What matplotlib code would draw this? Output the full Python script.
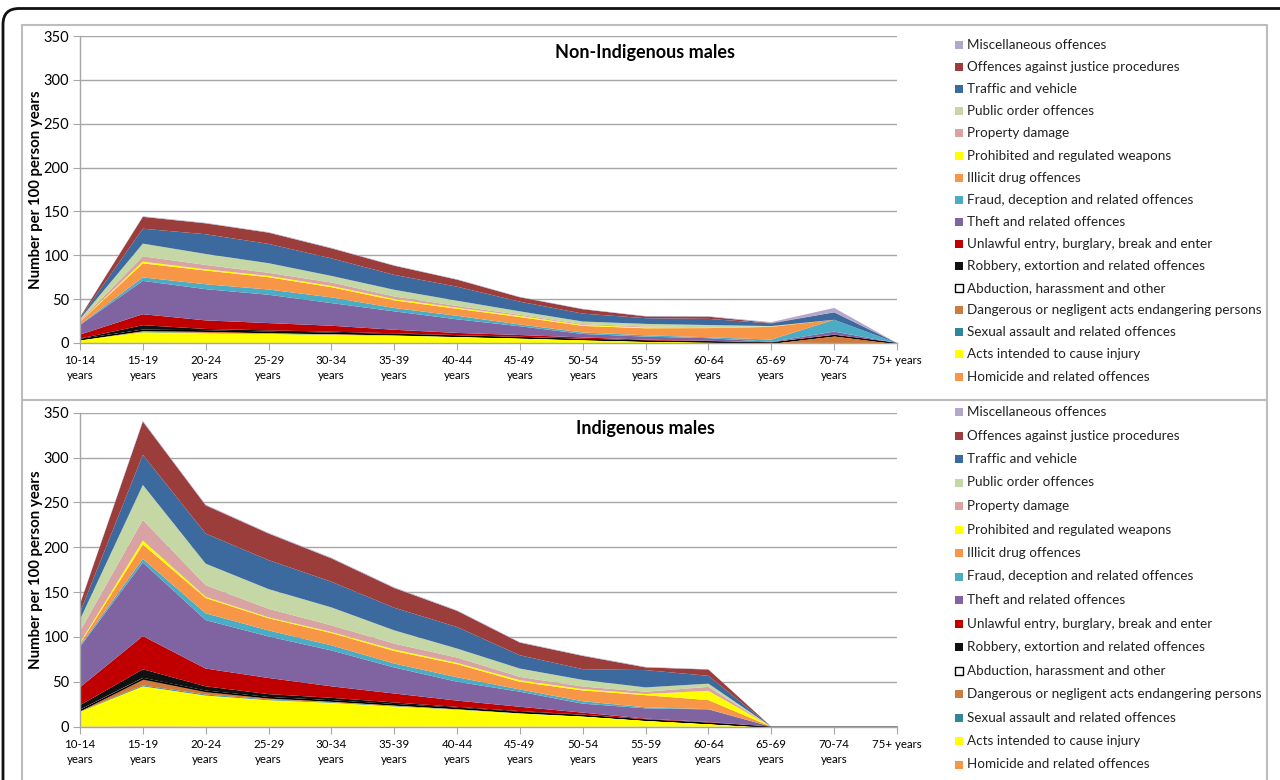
import matplotlib.pyplot as plt
import matplotlib.transforms as mtransforms
from matplotlib.patches import Rectangle, FancyBboxPatch
import numpy as np

plt.rcParams['font.family'] = ['Lato', 'DejaVu Sans']

age_groups = ['10-14\nyears', '15-19\nyears', '20-24\nyears', '25-29\nyears', '30-34\nyears',
              '35-39\nyears', '40-44\nyears', '45-49\nyears', '50-54\nyears', '55-59\nyears',
              '60-64\nyears', '65-69\nyears', '70-74\nyears', '75+ years']

# stacking order, bottom first
offences = ['Homicide and related offences',
            'Acts intended to cause injury',
            'Sexual assault and related offences',
            'Dangerous or negligent acts endangering persons',
            'Abduction, harassment and other',
            'Robbery, extortion and related offences',
            'Unlawful entry, burglary, break and enter',
            'Theft and related offences',
            'Fraud, deception and related offences',
            'Illicit drug offences',
            'Prohibited and regulated weapons',
            'Property damage',
            'Public order offences',
            'Traffic and vehicle',
            'Offences against justice procedures',
            'Miscellaneous offences']
colours = ['#f79646', '#ffff00', '#31859c', '#cf7b3b', '#ffffff', '#111111', '#c00000',
           '#8064a2', '#4bacc6', '#f79646', '#ffff00', '#d9a3a3', '#c4d7a4', '#3d6a9e',
           '#9b3d3b', '#b3a7cc']

# Non-Indigenous males, per 100 person years
non_homicide = [0, 0.3, 0.2, 0.2, 0.2, 0.1, 0.1, 0.1, 0.1, 0.1, 0.1, 0, 0, 0]
non_injury = [3.5, 12, 11, 10.2, 9.1, 8.3, 7, 5.5, 3.7, 2, 1.2, 0.3, 0, 0]
non_sexual = [0.3, 0.5, 0.4, 0.4, 0.4, 0.3, 0.3, 0.2, 0.2, 0.2, 0.1, 0, 0, 0]
non_dangerous = [0.5, 2, 2.4, 1.7, 1.7, 1.3, 0.8, 0.6, 0.4, 0.4, 0.3, 0.3, 9, 0]
non_abduction = [0.3, 0.5, 0.4, 0.3, 0.3, 0.3, 0.2, 0.2, 0.1, 0.1, 0.1, 0, 0, 0]
non_robbery = [0.5, 5, 1.6, 1.6, 1.2, 0.8, 0.6, 0.5, 0.3, 0.2, 0.2, 0, 0, 0]
non_unlawful = [4.5, 12.5, 9.8, 8.3, 6.8, 4, 2.5, 2, 1.5, 0.8, 0.5, 0.3, 0.5, 0]
non_theft = [11, 38, 35.6, 32.3, 25.8, 21, 15.5, 10, 4, 3.5, 3, 0.5, 3.5, 0]
non_fraud = [0.5, 4, 5.6, 6, 6.5, 3.8, 4, 2, 1.7, 1.5, 1, 2.5, 13.5, 0]
non_drug = [3, 16, 15.6, 14, 11.6, 8.7, 8, 8.5, 7.5, 8, 10.5, 14.5, 0, 0]
non_weapons = [0.3, 2, 1.4, 1.5, 1.4, 1.5, 1.2, 1.3, 1, 1, 0.5, 0.2, 0, 0]
non_property = [1, 6, 5, 3.5, 4, 3, 2, 1.2, 1, 1, 0.5, 0.2, 0, 0]
non_public = [2, 14.5, 12.5, 11, 7.5, 7.6, 6, 4, 3, 3, 2.5, 0.5, 0, 0]
non_traffic = [1.2, 17, 22.5, 22, 20, 17, 16, 11, 9, 6.5, 7, 3, 8.5, 0]
non_justice = [0.8, 13.5, 12.4, 12.8, 11.4, 10.4, 8, 5, 5, 2, 2.5, 0.5, 0, 0]
non_misc = [0.2, 0.7, 0.6, 0.6, 0.6, 0.5, 0.5, 0.5, 0.4, 0.5, 0.5, 1, 5, 0]

# Indigenous males, per 100 person years
ind_homicide = [0.2, 0.5, 0.3, 0.3, 0.2, 0.2, 0.1, 0.1, 0.1, 0.1, 0, 0, 0, 0]
ind_injury = [16.5, 44.5, 34.5, 29.3, 26.5, 22.5, 19, 14.7, 11.5, 7, 3.5, 0, 0, 0]
ind_sexual = [0.5, 1, 1, 0.8, 0.7, 0.6, 0.5, 0.4, 0.3, 0.2, 0.1, 0, 0, 0]
ind_dangerous = [1.3, 7.5, 3.8, 2.2, 1.6, 1.5, 1.2, 1, 0.8, 0.5, 0.5, 0, 0, 0]
ind_abduction = [0.5, 1, 0.7, 0.5, 0.5, 0.4, 0.3, 0.2, 0.2, 0.1, 0.1, 0, 0, 0]
ind_robbery = [5, 9.5, 4.7, 3.2, 2.7, 1.8, 1, 1, 0.6, 0.3, 0.6, 0, 0, 0]
ind_unlawful = [20, 37, 19.8, 18, 12.8, 10, 7, 4.8, 2.2, 0.8, 0.5, 0, 0, 0]
ind_theft = [45, 82, 54, 46.3, 40, 29, 21, 16.8, 10, 11.5, 14, 0, 0, 0]
ind_fraud = [1.5, 4, 7.6, 6.7, 5.7, 4.4, 5, 2.5, 2.7, 1.1, 0.3, 0, 0, 0]
ind_drug = [2, 16, 17, 13.6, 13.7, 14, 14.6, 8.5, 12, 13.5, 10, 0, 0, 0]
ind_weapons = [1, 4.5, 1.3, 1, 1.1, 1.6, 1.4, 1.8, 1.5, 1.3, 10.4, 0, 0, 0]
ind_property = [13, 23, 13, 9.5, 7.5, 6.6, 6, 3.7, 2.9, 2.6, 4.4, 0, 0, 0]
ind_public = [13, 39, 24, 22, 20, 14.8, 10, 9.3, 7.4, 4.8, 3.6, 0, 0, 0]
ind_traffic = [8, 33.5, 33.6, 32.3, 28.6, 25.2, 24, 14.8, 11.9, 19.3, 8.7, 0, 0, 0]
ind_justice = [9, 37, 31.4, 29.6, 26, 22, 18, 14.1, 14.8, 3, 7, 0, 0, 0]
ind_misc = [0.5, 1, 0.8, 0.8, 0.8, 0.8, 0.7, 0.6, 0.6, 0.6, 0.3, 0, 0, 0]

non_indigenous = [non_homicide, non_injury, non_sexual, non_dangerous, non_abduction,
                  non_robbery, non_unlawful, non_theft, non_fraud, non_drug, non_weapons,
                  non_property, non_public, non_traffic, non_justice, non_misc]
indigenous = [ind_homicide, ind_injury, ind_sexual, ind_dangerous, ind_abduction,
              ind_robbery, ind_unlawful, ind_theft, ind_fraud, ind_drug, ind_weapons,
              ind_property, ind_public, ind_traffic, ind_justice, ind_misc]

W, H = 1280, 780
fig = plt.figure(figsize=(W / 100, H / 100), dpi=100)
pix = mtransforms.IdentityTransform()

# outer rounded frame (runs off the right and bottom)
fig.add_artist(FancyBboxPatch((3, -60), 1400, H - 8.5 + 60, boxstyle='round,pad=0,rounding_size=16',
                              transform=pix, fill=False, edgecolor='#111111', linewidth=2))
# panel borders
fig.add_artist(Rectangle((22, H - 400), 1245, 375, transform=pix, fill=False,
                         edgecolor='#bdbdbd', linewidth=1.5))
fig.add_artist(Rectangle((22, -20), 1245, H - 400 + 20, transform=pix, fill=False,
                         edgecolor='#bdbdbd', linewidth=1.5))

grey = '#a6a6a6'


def draw_panel(y_zero, y_top, series, title, leg_top, leg_step):
    ax = fig.add_axes([80 / W, 1 - y_zero / H, (897 - 80) / W, (y_zero - y_top) / H])
    x = np.arange(len(age_groups))
    polys = ax.stackplot(x, series, colors=colours, linewidth=0)
    polys[4].set_edgecolor('black')
    polys[4].set_linewidth(0.6)
    ax.set_xlim(0, len(age_groups) - 1)
    ax.set_ylim(0, 350)
    ax.set_yticks(range(0, 351, 50))
    ax.set_xticks(x)
    ax.set_xticklabels(age_groups, fontsize=8.3, linespacing=1.4)
    ax.tick_params(axis='y', labelsize=10.5, length=5, color=grey, pad=3)
    ax.tick_params(axis='x', length=5, color=grey, pad=4)
    ax.grid(axis='y', color=grey, linewidth=1)
    ax.set_axisbelow(True)
    for s in ['top', 'right']:
        ax.spines[s].set_visible(False)
    for s in ['left', 'bottom']:
        ax.spines[s].set_color(grey)
        ax.spines[s].set_linewidth(1)
    ax.set_ylabel('Number per 100 person years', fontsize=10.8, fontweight='bold')
    ax.yaxis.set_label_coords(-37 / 817, 0.5)
    ax.set_facecolor('none')
    fig.text(645 / W, 1 - y_top / H - 16 / H, title, ha='center', va='center',
             fontsize=13, fontweight='bold')

    # legend, top entry = last series
    for i, k in enumerate(reversed(range(len(offences)))):
        y = leg_top + i * leg_step
        fig.add_artist(Rectangle((955, H - y - 4), 8, 8, transform=pix, facecolor=colours[k],
                                 edgecolor='black' if k == 4 else 'none', linewidth=1))
        fig.text(967 / W, 1 - y / H, offences[k], ha='left', va='center', fontsize=9.7,
                 color='#222222')


draw_panel(343, 36, non_indigenous, 'Non-Indigenous males', 45, 22.1)
draw_panel(726.7, 412.7, indigenous, 'Indigenous males', 412, 23.5)

fig.savefig('out.png', dpi=100)
